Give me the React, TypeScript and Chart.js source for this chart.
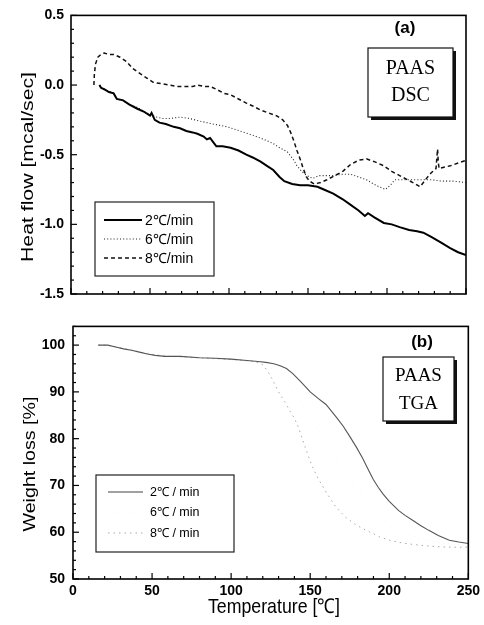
import React, { useEffect, useRef } from 'react';
import { Chart, registerables } from 'chart.js';
Chart.register(...registerables);

// ---------- DSC (a) ----------
const dsc2T = [18, 19, 21, 24, 27, 29, 33, 37, 42, 46, 50, 51, 53, 56, 60, 65, 69, 73, 77, 80, 84, 86, 88, 90, 92, 96, 101, 106, 111, 115, 120, 124, 128, 132, 135, 140, 145, 150, 156, 160, 166, 172, 177, 182, 186, 188, 192, 198, 203, 208, 214, 219, 223, 228, 234, 240, 245, 250];
const dsc2HF = [0.0, -0.02, -0.03, -0.05, -0.06, -0.1, -0.11, -0.14, -0.17, -0.19, -0.22, -0.2, -0.25, -0.27, -0.28, -0.3, -0.31, -0.33, -0.34, -0.35, -0.37, -0.39, -0.38, -0.41, -0.44, -0.44, -0.45, -0.47, -0.5, -0.52, -0.55, -0.58, -0.61, -0.66, -0.69, -0.71, -0.72, -0.72, -0.73, -0.75, -0.78, -0.82, -0.86, -0.9, -0.94, -0.92, -0.95, -0.99, -1.0, -1.02, -1.04, -1.05, -1.06, -1.09, -1.13, -1.17, -1.2, -1.22];

const dsc6T = [18, 20, 23, 27, 29, 33, 37, 42, 46, 50, 54, 58, 63, 69, 75, 82, 90, 99, 107, 115, 122, 128, 132, 137, 141, 143, 146, 148, 151, 153, 157, 162, 166, 172, 177, 182, 187, 193, 197, 199, 202, 205, 210, 219, 228, 235, 242, 250];
const dsc6HF = [0.0, -0.03, -0.04, -0.06, -0.1, -0.11, -0.14, -0.16, -0.19, -0.21, -0.23, -0.24, -0.24, -0.23, -0.24, -0.26, -0.28, -0.3, -0.33, -0.36, -0.39, -0.42, -0.45, -0.48, -0.54, -0.58, -0.62, -0.64, -0.66, -0.67, -0.65, -0.65, -0.65, -0.64, -0.64, -0.66, -0.68, -0.72, -0.74, -0.75, -0.72, -0.68, -0.68, -0.68, -0.68, -0.69, -0.69, -0.7];

const dsc8T = [14.5, 14.8, 15.5, 17, 19, 21, 24, 27, 31, 35, 39, 44, 48, 52, 57, 62, 67, 72, 77, 80, 84, 88, 92, 97, 101, 106, 111, 115, 120, 125, 130, 134, 137, 139, 141, 143, 145, 147, 149, 151, 154, 158, 162, 167, 172, 177, 182, 187, 192, 198, 203, 208, 213, 218, 221, 225, 228, 231, 232, 232.5, 233, 236, 240, 245, 250];
const dsc8HF = [0.0, 0.08, 0.15, 0.2, 0.22, 0.23, 0.22, 0.22, 0.2, 0.17, 0.12, 0.08, 0.05, 0.02, 0.01, 0.0, -0.01, -0.01, -0.01, 0.0, -0.01, -0.01, -0.03, -0.06, -0.07, -0.1, -0.13, -0.15, -0.18, -0.2, -0.22, -0.25, -0.29, -0.34, -0.4, -0.47, -0.53, -0.6, -0.66, -0.69, -0.71, -0.7, -0.68, -0.65, -0.62, -0.57, -0.54, -0.53, -0.55, -0.58, -0.62, -0.65, -0.68, -0.71, -0.73, -0.67, -0.63, -0.6, -0.46, -0.56, -0.6, -0.59, -0.58, -0.56, -0.54];

// ---------- TGA (b) ----------
const tga2T = [16, 22, 27, 32, 37, 42, 47, 52, 58, 68, 80, 90, 100, 110, 117, 122, 127, 131, 135, 139, 144, 150, 155, 160, 167, 171, 175, 179, 183, 187, 190, 193, 196, 200, 206, 210, 215, 220, 225, 231, 238, 244, 250];
const tga2W = [100, 100, 99.6, 99.2, 98.9, 98.5, 98.1, 97.8, 97.6, 97.6, 97.3, 97.2, 97.0, 96.7, 96.5, 96.3, 96.0, 95.6, 95.0, 93.9, 92.2, 90.0, 88.6, 87.3, 84.4, 82.6, 80.5, 78.3, 75.9, 73.2, 71.2, 69.6, 68.2, 66.6, 64.6, 63.6, 62.5, 61.4, 60.4, 59.3, 58.3, 57.9, 57.6];

const tga6T = [16, 40, 80, 115, 125, 135, 145, 155, 165, 175, 185, 195, 210, 230, 250];
const tga6W = [100, 98.7, 97.2, 96.4, 95.2, 92.0, 87.0, 82.0, 77.0, 71.5, 66.5, 62.5, 59.5, 57.8, 57.2];

const tga8T = [16, 22, 30, 40, 50, 60, 75, 90, 105, 115, 120, 123, 126, 130, 134, 137, 140, 143, 147, 151, 155, 160, 166, 172, 178, 183, 188, 194, 201, 210, 220, 230, 240, 250];
const tga8W = [100, 100, 99.4, 98.7, 98.0, 97.6, 97.4, 97.1, 96.8, 96.5, 95.8, 94.5, 92.7, 90.0, 87.8, 86.0, 84.4, 82.0, 78.0, 74.3, 71.5, 68.6, 65.5, 63.3, 61.8, 60.8, 60.0, 59.0, 58.2, 57.6, 57.2, 56.9, 56.8, 56.8];

// ---------- labels / ticks ----------
const dscTicks = [0.5, 0.0, -0.5, -1.0, -1.5];
const tgaTicks = [50, 60, 70, 80, 90, 100];
const tempTicks = [0, 50, 100, 150, 200, 250];
const dscLabels = ['2\u2103/min', '6\u2103/min', '8\u2103/min'];
const tgaLabels = ['2\u2103 / min', '6\u2103 / min', '8\u2103 / min'];
const dscTitle = 'Heat flow [mcal/sec]';
const tgaTitle = 'Weight loss [%]';
const xTitle = 'Temperature [\u2103]';

const SANS = '"Liberation Sans", Arial, sans-serif';
const SERIF = '"Liberation Serif", "Times New Roman", serif';

const zip = (xs: number[], ys: number[]) => xs.map((x, i) => ({ x, y: ys[i] }));

function fitText(ctx: CanvasRenderingContext2D, text: string, cx: number, cy: number, font: string, len: number, cross: number, rot: number) {
  ctx.save();
  ctx.font = font;
  const w = ctx.measureText(text).width;
  ctx.translate(cx, cy);
  ctx.rotate(rot);
  ctx.scale(len / w, cross);
  ctx.textAlign = 'center';
  ctx.textBaseline = 'middle';
  ctx.fillStyle = '#000';
  ctx.fillText(text, 0, 0);
  ctx.restore();
}

function makeDecor(cfg: any) {
  return {
    id: 'decor',
    afterDraw(chart: any) {
      const ctx: CanvasRenderingContext2D = chart.ctx;
      const a = chart.chartArea;
      const xs = chart.scales.x;
      const ys = chart.scales.y;
      ctx.save();
      ctx.strokeStyle = '#000';
      ctx.lineWidth = 1.6;
      ctx.setLineDash([]);
      ctx.strokeRect(a.left, a.top, a.right - a.left, a.bottom - a.top);
      ctx.lineWidth = 1.2;
      const t = cfg.ticks;
      const nx = Math.round((t.xMax - t.xMin) / t.xMinor);
      for (let k = 0; k <= nx; k++) {
        const v = t.xMin + k * t.xMinor;
        const major = Math.abs(v / t.xMajor - Math.round(v / t.xMajor)) < 1e-6;
        const px = xs.getPixelForValue(v);
        ctx.beginPath();
        ctx.moveTo(px, a.bottom);
        ctx.lineTo(px, a.bottom - (major ? 6 : 3));
        ctx.stroke();
      }
      const ny = Math.round((t.yMax - t.yMin) / t.yMinor);
      for (let k = 0; k <= ny; k++) {
        const v = t.yMin + k * t.yMinor;
        const major = Math.abs(v / t.yMajor - Math.round(v / t.yMajor)) < 1e-6;
        const py = ys.getPixelForValue(v);
        ctx.beginPath();
        ctx.moveTo(a.left, py);
        ctx.lineTo(a.left + (major ? 6 : 3), py);
        ctx.stroke();
      }
      const L = cfg.legend;
      ctx.fillStyle = '#fff';
      ctx.fillRect(L.x, L.y, L.w, L.h);
      ctx.strokeStyle = '#222';
      ctx.lineWidth = 1.2;
      ctx.strokeRect(L.x, L.y, L.w, L.h);
      chart.data.datasets.forEach((ds: any, i: number) => {
        const yy = L.rows[i];
        ctx.save();
        ctx.strokeStyle = ds.legendColor || ds.borderColor;
        ctx.lineWidth = ds.legendWidth || ds.borderWidth;
        ctx.setLineDash(ds.borderDash || []);
        ctx.beginPath();
        ctx.moveTo(L.x0, yy);
        ctx.lineTo(L.x1, yy);
        ctx.stroke();
        ctx.restore();
        ctx.fillStyle = '#000';
        ctx.font = L.font;
        ctx.textAlign = 'left';
        ctx.textBaseline = 'middle';
        ctx.fillText(ds.label, L.tx, yy + 1);
      });
      const N = cfg.note;
      ctx.fillStyle = '#000';
      ctx.font = `bold 17px ${SANS}`;
      ctx.textAlign = 'center';
      ctx.textBaseline = 'middle';
      ctx.fillText(N.tag, N.tagX, N.tagY);
      ctx.fillStyle = '#111';
      ctx.fillRect(N.bx + 3, N.by + 3, N.bw, N.bh);
      ctx.fillStyle = '#fff';
      ctx.fillRect(N.bx, N.by, N.bw, N.bh);
      ctx.strokeStyle = '#111';
      ctx.lineWidth = 1.2;
      ctx.strokeRect(N.bx, N.by, N.bw, N.bh);
      ctx.fillStyle = '#000';
      ctx.font = `${N.size}px ${SERIF}`;
      N.lines.forEach((s: string, i: number) => {
        ctx.fillText(s, N.bx + N.bw / 2, N.lineY[i]);
      });
      ctx.restore();
      cfg.titles.forEach((ti: any) => {
        fitText(ctx, ti.text, ti.cx, ti.cy, `17px ${SANS}`, ti.len, ti.cross, ti.rot);
      });
    },
  };
}

const tickFont = { family: SANS, size: 14, weight: 'bold' };

function DscChart() {
  const ref = useRef<HTMLCanvasElement>(null);
  useEffect(() => {
    const decor = makeDecor({
      ticks: { xMin: 0, xMax: 250, xMinor: 10, xMajor: 50, yMin: -1.5, yMax: 0.5, yMinor: 0.1, yMajor: 0.5 },
      legend: { x: 95, y: 202, w: 119, h: 74, rows: [220, 239, 258], x0: 104, x1: 142, tx: 145, font: `14px ${SANS}` },
      note: { tag: '(a)', tagX: 405, tagY: 28, bx: 368, by: 48, bw: 85, bh: 69, size: 20, lines: ['PAAS', 'DSC'], lineY: [69, 96] },
      titles: [{ text: dscTitle, cx: 28, cy: 167, len: 190, cross: 1, rot: -Math.PI / 2 }],
    });
    const chart = new Chart(ref.current!, {
      type: 'line',
      data: {
        datasets: [
          { label: dscLabels[0], data: zip(dsc2T, dsc2HF), borderColor: '#000', borderWidth: 2, pointRadius: 0, tension: 0, order: 1 },
          { label: dscLabels[1], data: zip(dsc6T, dsc6HF), borderColor: '#222', borderWidth: 1.1, borderDash: [1, 2.2], pointRadius: 0, tension: 0, order: 2 },
          { label: dscLabels[2], data: zip(dsc8T, dsc8HF), borderColor: '#111', borderWidth: 1.5, borderDash: [4, 3], pointRadius: 0, tension: 0, order: 3 },
        ] as any,
      },
      options: {
        animation: false,
        responsive: false,
        layout: { padding: { left: 0, right: 18, top: 8, bottom: 0 } },
        plugins: { legend: { display: false }, tooltip: { enabled: false } },
        scales: {
          x: {
            type: 'linear', min: 0, max: 250,
            ticks: { display: false },
            grid: { display: false }, border: { display: false },
            afterFit: (s: any) => { s.height = 16; },
          },
          y: {
            type: 'linear', min: -1.5, max: 0.5,
            afterBuildTicks: (s: any) => { s.ticks = dscTicks.map((v) => ({ value: v })); },
            ticks: { color: '#000', font: tickFont, padding: 7, callback: (v: any) => Number(v).toFixed(1) },
            grid: { display: false, drawTicks: false }, border: { display: false },
            afterFit: (s: any) => { s.width = 71; },
          },
        },
      } as any,
      plugins: [decor as any],
    });
    return () => chart.destroy();
  }, []);
  return <canvas ref={ref} width={484} height={310} style={{ display: 'block', position: 'absolute', left: 0, top: 0 }} />;
}

function TgaChart() {
  const ref = useRef<HTMLCanvasElement>(null);
  useEffect(() => {
    const decor = makeDecor({
      ticks: { xMin: 0, xMax: 250, xMinor: 10, xMajor: 50, yMin: 50, yMax: 104, yMinor: 2, yMajor: 10 },
      legend: { x: 96, y: 165, w: 138, h: 77, rows: [182, 202, 223], x0: 108, x1: 143, tx: 150, font: `12.5px ${SANS}` },
      note: { tag: '(b)', tagX: 422, tagY: 32, bx: 383, by: 47, bw: 71, bh: 64, size: 19, lines: ['PAAS', 'TGA'], lineY: [66, 94] },
      titles: [
        { text: tgaTitle, cx: 30, cy: 154, len: 135, cross: 1, rot: -Math.PI / 2 },
        { text: xTitle, cx: 274, cy: 297, len: 132, cross: 1.2, rot: 0 },
      ],
    });
    const chart = new Chart(ref.current!, {
      type: 'line',
      data: {
        datasets: [
          { label: tgaLabels[0], data: zip(tga2T, tga2W), borderColor: '#555', borderWidth: 1.1, pointRadius: 0, tension: 0, order: 1, legendColor: '#444' },
          { label: tgaLabels[1], data: zip(tga6T, tga6W), borderColor: '#f4f4f4', borderWidth: 1, borderDash: [1, 4], pointRadius: 0, tension: 0, order: 3 },
          { label: tgaLabels[2], data: zip(tga8T, tga8W), borderColor: '#aaa', borderWidth: 1, borderDash: [1.5, 4], pointRadius: 0, tension: 0, order: 2 },
        ] as any,
      },
      options: {
        animation: false,
        responsive: false,
        layout: { padding: { left: 0, right: 12, top: 8, bottom: 0 } },
        plugins: { legend: { display: false }, tooltip: { enabled: false } },
        scales: {
          x: {
            type: 'linear', min: 0, max: 250,
            afterBuildTicks: (s: any) => { s.ticks = tempTicks.map((v) => ({ value: v })); },
            ticks: { color: '#000', font: tickFont, padding: 4, maxRotation: 0, autoSkip: false },
            grid: { display: false, drawTicks: false }, border: { display: false },
            afterFit: (s: any) => { s.height = 46; },
          },
          y: {
            type: 'linear', min: 50, max: 104,
            afterBuildTicks: (s: any) => { s.ticks = tgaTicks.map((v) => ({ value: v })); },
            ticks: { color: '#000', font: tickFont, padding: 8 },
            grid: { display: false, drawTicks: false }, border: { display: false },
            afterFit: (s: any) => { s.width = 73; },
          },
        },
      } as any,
      plugins: [decor as any],
    });
    return () => chart.destroy();
  }, []);
  return <canvas ref={ref} width={484} height={315} style={{ display: 'block', position: 'absolute', left: 0, top: 310 }} />;
}

export default function App() {
  return (
    <div style={{ position: 'absolute', left: 0, top: 0, width: 484, height: 625, background: '#fff' }}>
      <DscChart />
      <TgaChart />
    </div>
  );
}
